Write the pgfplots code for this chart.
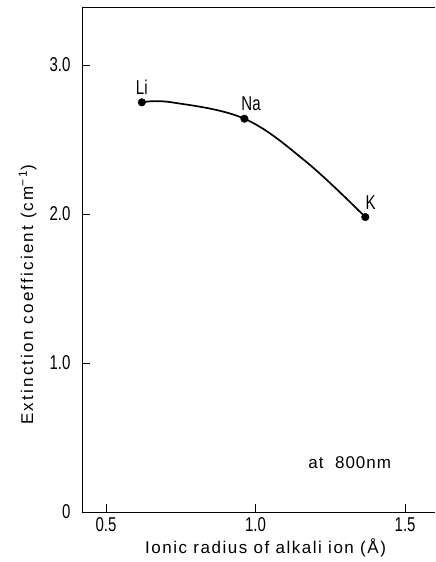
\documentclass[border=0pt]{standalone}
\usepackage{fontspec}
\setmainfont{Liberation Sans}
\newfontfamily\tickfont{Liberation Sans}[FakeStretch=0.75]
\newfontfamily\labfont{Liberation Sans}[LetterSpace=9]
\newfontfamily\ylabfont{Liberation Sans}[LetterSpace=13]
\newfontfamily\notefont{Liberation Sans}[LetterSpace=6]
\usepackage{pgfplots}
\pgfplotsset{compat=1.18}
\begin{document}
\begin{tikzpicture}
\begin{axis}[
 scale only axis, width=353pt, height=505pt,
 xmin=0.42, xmax=1.6, ymin=0, ymax=3.39,
 axis x line*=bottom, axis y line*=left,
 xtick={0.5,1.0,1.5}, ytick={0,1,2,3},
 xticklabels={0.5,1.0,1.5}, yticklabels={0,1.0,2.0,3.0},
 tick align=inside, major tick length=8pt,
 tick style={black, line width=0.8pt},
 axis line style={line width=0.9pt},
 /pgf/number format/assume math mode=true,
 tick label style={font=\tickfont\fontsize{20}{22}\selectfont},
 xticklabel style={yshift=-2pt},
 yticklabel style={xshift=-8pt},
 xlabel={Ionic radius of alkali ion (Å)},
 ylabel={Extinction coefficient (cm\textsuperscript{−1})},
 xlabel style={font=\labfont\fontsize{17}{19}\selectfont, at={(ticklabel cs:0.52)}},
 ylabel style={font=\ylabfont\fontsize{17}{19}\selectfont, at={(ticklabel cs:0.43)}, yshift=6pt},
 clip=false,
]
\coordinate (sw) at (rel axis cs:0,0);
\coordinate (ne) at (rel axis cs:1,1);
\draw[line width=0.9pt] (rel axis cs:0,1) -- (rel axis cs:1,1);
\addplot[black, line width=1.7pt, smooth, tension=0.6] coordinates {
 (0.62,2.75) (0.72,2.75) (0.963,2.64) (1.17,2.35) (1.367,1.98)
};
\addplot[only marks, mark=*, mark size=3.8pt, black] coordinates {
 (0.62,2.75) (0.963,2.64) (1.367,1.98)
};
\node[font=\tickfont\fontsize{20}{22}\selectfont, anchor=south] at (axis cs:0.62,2.78) {Li};
\node[font=\tickfont\fontsize{20}{22}\selectfont, anchor=south] at (axis cs:0.985,2.67) {Na};
\node[font=\tickfont\fontsize{20}{22}\selectfont, anchor=south] at (axis cs:1.385,2.01) {K};
\node[font=\notefont\fontsize{17}{19}\selectfont] at (axis cs:1.315,0.33) {at\ \ 800nm};
\end{axis}
\pgfresetboundingbox
\useasboundingbox ([xshift=-82pt,yshift=-50pt]sw) rectangle ([yshift=7pt]ne);
\end{tikzpicture}
\end{document}
